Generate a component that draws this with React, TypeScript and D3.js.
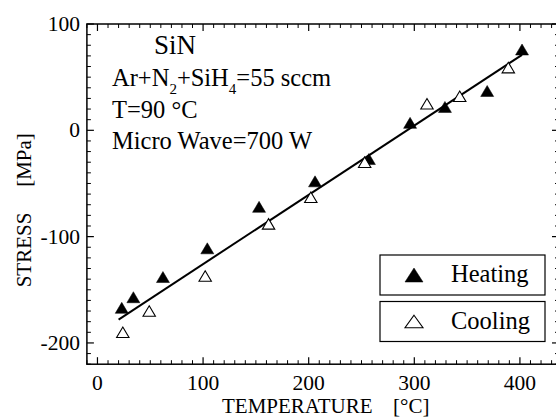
import React from "react";
import * as d3 from "d3";

const heatingX = [23, 34, 62, 104, 153, 206, 257, 296, 329, 369, 402];
const heatingY = [-167, -157, -138, -111, -72, -48, -27, 7, 22, 37, 76];
const coolingX = [24, 49, 102, 162, 202, 253, 312, 343, 389];
const coolingY = [-190, -170, -137, -88, -63, -30, 25, 32, 59];
const fitX = [20, 402];
const fitY = [-178, 71];
const xMajor = [0, 100, 200, 300, 400];
const xMajorLabels = ["0", "100", "200", "300", "400"];
const yMajor = [-200, -100, 0, 100];
const yMajorLabels = ["-200", "-100", "0", "100"];
const legendItems = ["Heating", "Cooling"];

const W = 556;
const H = 417;
const FAM = "Liberation Serif";

export default function App() {
  const x = d3.scaleLinear().domain([-10, 437]).range([86.9, 559]);
  const y = d3.scaleLinear().domain([-220, 100]).range([364.2, 24]);
  const [x0, x1] = x.range();
  const [yb, yt] = y.range();

  const xMinor = d3.range(-10, 437, 10).filter((v) => v % 100 !== 0);
  const yMinor = d3.range(-220, 101, 10).filter((v) => v % 100 !== 0);

  const tri = (cx: number, cy: number, hw: number, h: number) =>
    `M${cx},${cy - h / 2}L${cx + hw},${cy + h / 2}L${cx - hw},${cy + h / 2}Z`;

  const line = d3
    .line<number>()
    .x((_, i) => x(fitX[i]))
    .y((_, i) => y(fitY[i]));

  const MAJ = 7;
  const MIN = 4;
  const ts = { fontFamily: `"${FAM}"` };

  return (
    <svg width={W} height={H} style={{ position: "absolute", left: 0, top: 0, background: "#fff" }}>
      <style>{`text, tspan { font-family: "Liberation Serif", "Tinos", "Nimbus Roman", "FreeSerif", serif !important; }`}</style>
      <rect x={0} y={0} width={W} height={H} fill="#fff" />
      <rect x={x0} y={yt} width={x1 - x0} height={yb - yt} fill="none" stroke="#000" strokeWidth={1.5} />
      {xMajor.map((v) => (
        <g key={"xm" + v}>
          <line x1={x(v)} x2={x(v)} y1={yb} y2={yb - MAJ} stroke="#000" strokeWidth={1.2} />
          <line x1={x(v)} x2={x(v)} y1={yt} y2={yt + MAJ} stroke="#000" strokeWidth={1.2} />
        </g>
      ))}
      {xMinor.map((v) => (
        <g key={"xn" + v}>
          <line x1={x(v)} x2={x(v)} y1={yb} y2={yb - MIN} stroke="#000" strokeWidth={1} />
          <line x1={x(v)} x2={x(v)} y1={yt} y2={yt + MIN} stroke="#000" strokeWidth={1} />
        </g>
      ))}
      {yMajor.map((v) => (
        <g key={"ym" + v}>
          <line x1={x0} x2={x0 + MAJ} y1={y(v)} y2={y(v)} stroke="#000" strokeWidth={1.2} />
          <line x1={x1} x2={x1 - MAJ} y1={y(v)} y2={y(v)} stroke="#000" strokeWidth={1.2} />
        </g>
      ))}
      {yMinor.map((v) => (
        <g key={"yn" + v}>
          <line x1={x0} x2={x0 + MIN} y1={y(v)} y2={y(v)} stroke="#000" strokeWidth={1} />
          <line x1={x1} x2={x1 - MIN} y1={y(v)} y2={y(v)} stroke="#000" strokeWidth={1} />
        </g>
      ))}
      {xMajor.map((v, i) => (
        <text key={"xl" + v} x={x(v)} y={390} fontSize={21.5} textAnchor="middle" fontFamily={FAM} style={ts}>
          {xMajorLabels[i]}
        </text>
      ))}
      {yMajor.map((v, i) => (
        <text key={"yl" + v} x={80} y={y(v) + 7} fontSize={21.5} textAnchor="end" fontFamily={FAM} style={ts}>
          {yMajorLabels[i]}
        </text>
      ))}
      <text x={222} y={413} fontSize={21} fontFamily={FAM} style={ts}>TEMPERATURE</text>
      <text x={393} y={413} fontSize={21} fontFamily={FAM} style={ts}>[°C]</text>
      <text transform="translate(31,250) rotate(-90)" fontSize={21} textAnchor="middle" fontFamily={FAM} style={ts}>STRESS</text>
      <text transform="translate(31,160) rotate(-90)" fontSize={21} textAnchor="middle" fontFamily={FAM} style={ts}>[MPa]</text>

      <text x={154} y={54} fontSize={27} fontFamily={FAM} style={ts}>SiN</text>
      <text x={112} y={86} fontSize={24.5} fontFamily={FAM} style={ts}>
        Ar+N
        <tspan fontSize={15} dy={8}>2</tspan>
        <tspan dy={-8}>+SiH</tspan>
        <tspan fontSize={15} dy={8}>4</tspan>
        <tspan dy={-8}>=55 sccm</tspan>
      </text>
      <text x={112} y={118} fontSize={24.5} fontFamily={FAM} style={ts}>T=90 °C</text>
      <text x={112} y={149} fontSize={24.5} fontFamily={FAM} style={ts}>Micro Wave=700 W</text>

      <path d={line(fitX) || ""} fill="none" stroke="#000" strokeWidth={2} />

      {heatingX.map((v, i) => (
        <path key={"h" + i} d={tri(x(v), y(heatingY[i]), 6.5, 11)} fill="#000" stroke="#000" strokeWidth={0.5} />
      ))}
      {coolingX.map((v, i) => (
        <path key={"c" + i} d={tri(x(v), y(coolingY[i]), 6.2, 10.5)} fill="#fff" stroke="#000" strokeWidth={1.1} />
      ))}

      {legendItems.map((name, i) => {
        const by = i === 0 ? 255 : 301.5;
        return (
          <g key={name}>
            <rect x={380} y={by} width={165} height={40} fill="#fff" stroke="#000" strokeWidth={1.2} />
            <path
              d={i === 0 ? tri(414, by + 20, 9, 14) : tri(414, by + 20, 9, 12.5)}
              fill={i === 0 ? "#000" : "#fff"}
              stroke="#000"
              strokeWidth={i === 0 ? 0.5 : 1.1}
            />
            <text x={451} y={by + 27} fontSize={24.5} fontFamily={FAM} style={ts}>{name}</text>
          </g>
        );
      })}
    </svg>
  );
}
